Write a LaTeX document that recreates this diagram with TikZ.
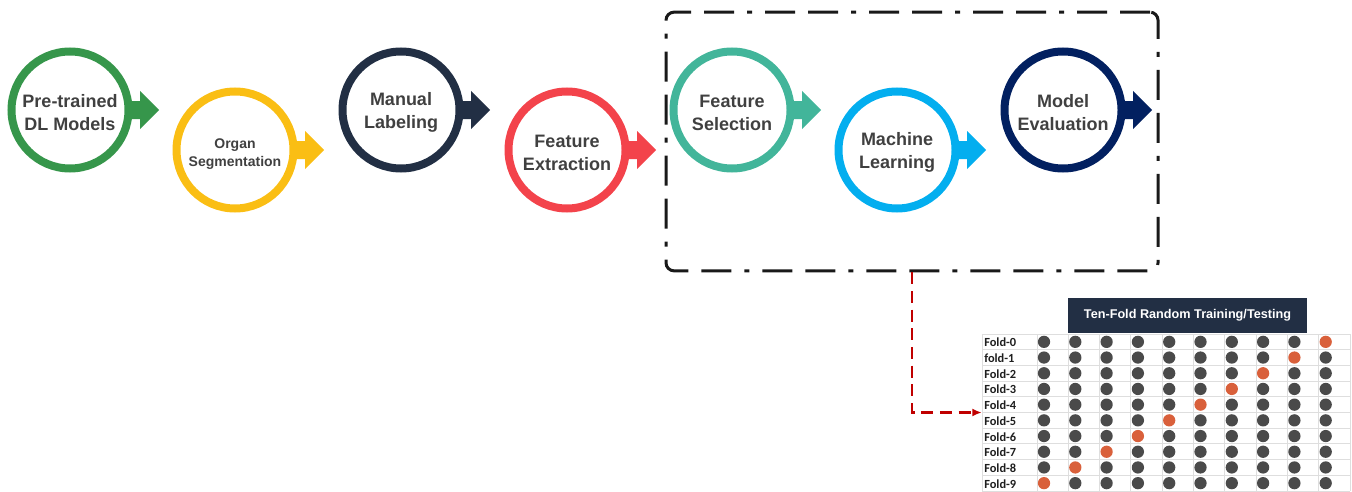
\documentclass[tikz,border=0pt]{standalone}
\usepackage{fontspec}
\setmainfont{Liberation Sans}
\newfontfamily\calib{Carlito}
\usetikzlibrary{arrows.meta,calc}
\definecolor{cgreen}{RGB}{54,150,75}
\definecolor{cyellow}{RGB}{250,190,20}
\definecolor{cdark}{RGB}{34,47,68}
\definecolor{cred}{RGB}{243,67,75}
\definecolor{cteal}{RGB}{66,181,154}
\definecolor{cblue}{RGB}{3,174,239}
\definecolor{cnavy}{RGB}{2,32,96}
\definecolor{ctext}{RGB}{64,64,64}
\definecolor{cdred}{RGB}{192,0,0}
\definecolor{cgrid}{RGB}{222,222,222}
\definecolor{cdot}{RGB}{74,74,74}
\definecolor{corange}{RGB}{217,96,59}
\definecolor{clab}{RGB}{30,30,30}
\begin{document}
\begin{tikzpicture}[x=0.75pt,y=-0.75pt,
  stepcirc/.style={circle, line width=6pt, minimum size=87.75pt, inner sep=0pt},
  steptext/.style={inner sep=0pt, text=ctext, align=center,
    font=\bfseries\fontsize{13.5}{17}\selectfont, yshift=-2pt},
  smalltext/.style={steptext, font=\bfseries\fontsize{10.5}{13}\selectfont, yshift=-1pt},
  framebox/.style={draw=black!90, line width=2.25pt, rounded corners=6pt,
    dash pattern=on 22.5pt off 9.75pt on 22.5pt off 9.75pt on 3.75pt off 9.75pt,
    inner sep=0pt},
  link/.style={cdred, line width=1.8pt, dash pattern=on 9pt off 5pt,
    -{Latex[length=7pt,width=6pt]}},
  foldlab/.style={anchor=west, inner sep=0pt, text=clab,
    font=\calib\bfseries\fontsize{9.3}{10}\selectfont},
  gridline/.style={cgrid, line width=0.75pt}
]
\useasboundingbox (0,0) rectangle (1352,492);

\node[stepcirc, draw=cgreen] (s1) at (70,110) {};
\node[stepcirc, draw=cyellow] (s2) at (235,150) {};
\node[stepcirc, draw=cdark] (s3) at (401,110) {};
\node[stepcirc, draw=cred] (s4) at (567,150) {};
\node[stepcirc, draw=cteal] (s5) at (732,110) {};
\node[stepcirc, draw=cblue] (s6) at (897,150) {};
\node[stepcirc, draw=cnavy] (s7) at (1063,110) {};

\node[steptext] (t1) at (s1.center) {Pre-trained\\DL Models};
\node[smalltext] (t2) at (s2.center) {Organ\\Segmentation};
\node[steptext] (t3) at (s3.center) {Manual\\Labeling};
\node[steptext] (t4) at (s4.center) {Feature\\Extraction};
\node[steptext] (t5) at (s5.center) {Feature\\Selection};
\node[steptext] (t6) at (s6.center) {Machine\\Learning};
\node[steptext] (t7) at (s7.center) {Model\\Evaluation};

% arrows attached to each step
\foreach \n/\c in {s1/cgreen,s2/cyellow,s3/cdark,s4/cred,s5/cteal,s6/cblue,s7/cnavy}{
  \fill[\c] ([shift={(55,-9)}]\n.center) -- ([shift={(70,-9)}]\n.center)
    -- ([shift={(70,-19)}]\n.center) -- ([shift={(89,0)}]\n.center)
    -- ([shift={(70,19)}]\n.center) -- ([shift={(70,9)}]\n.center)
    -- ([shift={(55,9)}]\n.center) -- cycle;
}

% dash-dot frame
\node[framebox, minimum width=369pt, minimum height=194pt] (box) at (912,141.5) {};

% header
\node[fill=cdark, minimum width=179.25pt, minimum height=26.25pt, inner sep=0pt,
  text=white, font=\bfseries\fontsize{9.5}{11}\selectfont] (head) at (1187.5,315.5)
  {Ten-Fold Random Training/Testing};

% table
\node[minimum width=276pt, minimum height=118.5pt, inner sep=0pt] (table) at (1166,412.5) {};
\foreach \r in {0,...,10}{
  \draw[gridline] (982,334+15.7*\r) -- (1350,334+15.7*\r);
}
\draw[gridline] (982,334) -- (982,491);
\foreach \c in {0,...,10}{
  \draw[gridline] (1037+31.3*\c,334) -- (1037+31.3*\c,491);
}
\foreach \lab [count=\i from 0] in {Fold-0,fold-1,Fold-2,Fold-3,Fold-4,Fold-5,Fold-6,Fold-7,Fold-8,Fold-9}{
  \node[foldlab] (lab\i) at (984,342.5+15.7*\i) {\lab};
}
\foreach \r in {0,...,9}{
  \foreach \c in {0,...,9}{
    \ifnum\numexpr\c+\r\relax=9 \def\dotcol{corange}\else\def\dotcol{cdot}\fi
    \fill[\dotcol] (1044+31.3*\c,341.85+15.7*\r) circle[radius=4.6pt];
  }
}

% connector
\draw[link] (box.south) |- (table.west);
\end{tikzpicture}
\end{document}
